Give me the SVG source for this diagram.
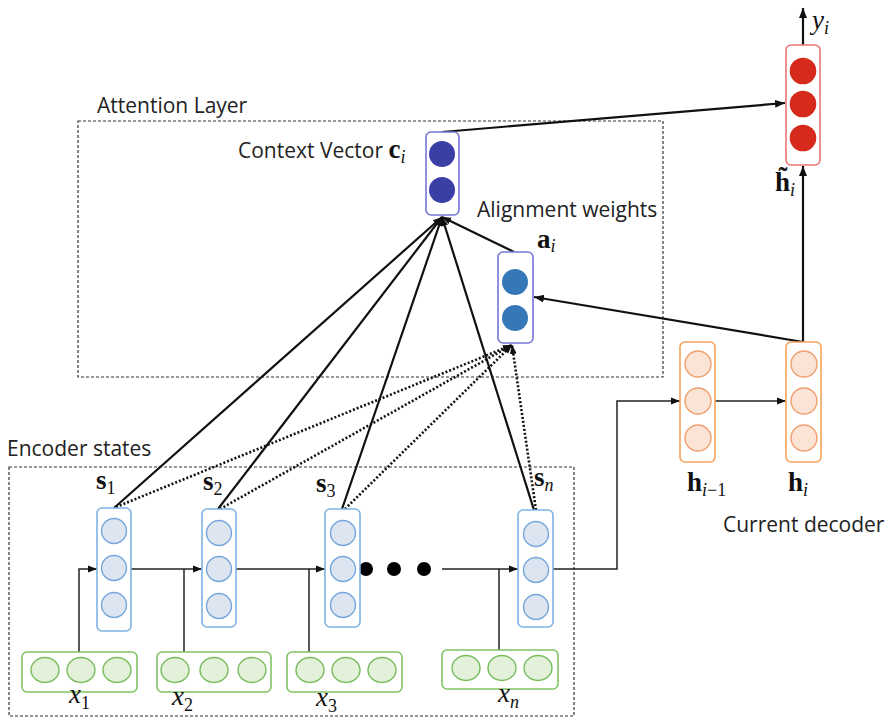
<svg xmlns="http://www.w3.org/2000/svg" width="889" height="727" viewBox="0 0 889 727">
<style>
.txt{font-family:"Open Sans","Liberation Sans",sans-serif;font-size:21px;fill:#222}
.m{font-family:"Liberation Serif","DejaVu Serif",serif;font-size:27px;fill:#111}
.b{font-weight:bold}
.it{font-style:italic}
.sub{font-size:18px;font-style:italic;font-weight:normal}
.subu{font-size:18px;font-style:normal;font-weight:normal}
.dash{fill:none;stroke:#333;stroke-width:1.2;stroke-dasharray:3 2}
.enc rect{fill:#fff;stroke:#7fb2e5;stroke-width:1.6}
.enc circle{fill:#dde6f0;stroke:#74a6dc;stroke-width:1.4}
.inp rect{fill:#fff;stroke:#80c463;stroke-width:1.6}
.inp ellipse{fill:#e3f0da;stroke:#77bb5a;stroke-width:1.4}
.dec rect{fill:#fff;stroke:#f5a35c;stroke-width:1.6}
.dec circle{fill:#fbe3d6;stroke:#f0a06e;stroke-width:1.4}
.ctx rect{fill:#fff;stroke:#7575d6;stroke-width:1.6}
.ctx circle{fill:#3a3fa6}
.aln rect{fill:#fff;stroke:#7575d6;stroke-width:1.6}
.aln circle{fill:#3478b8}
.out rect{fill:#fff;stroke:#ea7676;stroke-width:1.6}
.out circle{fill:#d62b1c}
.thin{fill:none;stroke:#222;stroke-width:1.5}
.thick{fill:none;stroke:#111;stroke-width:2.2}
.dot{fill:none;stroke:#111;stroke-width:2.6;stroke-dasharray:2 2}
</style>
<defs>
<marker id="ah" markerUnits="userSpaceOnUse" markerWidth="12" markerHeight="10" refX="10" refY="5" orient="auto">
<path d="M0,1 L10,5 L0,9 Z" fill="#111"/>
</marker>
<marker id="ahs" markerUnits="userSpaceOnUse" markerWidth="10" markerHeight="8" refX="9" refY="4" orient="auto">
<path d="M0,0.5 L9,4 L0,7.5 Z" fill="#111"/>
</marker>
</defs>

<g id="attention-layer">
<rect class="dash" x="78" y="121" width="585" height="256"/>
<text class="txt" x="97" y="113">Attention Layer</text>
</g>
<g id="encoder-states">
<rect class="dash" x="9" y="467" width="565" height="249"/>
<text class="txt" x="7" y="456">Encoder states</text>
</g>

<g id="connectors">
<line class="thick" x1="114" y1="508" x2="442" y2="217" marker-end="url(#ahs)"/>
<line class="thick" x1="218" y1="509" x2="442" y2="217" marker-end="url(#ahs)"/>
<line class="thick" x1="342" y1="509" x2="442" y2="217" marker-end="url(#ahs)"/>
<line class="thick" x1="534" y1="510" x2="442" y2="217" marker-end="url(#ahs)"/>
<line class="thick" x1="514" y1="252" x2="442" y2="217" marker-end="url(#ahs)"/>
<line class="dot" x1="116" y1="507" x2="512" y2="345" marker-end="url(#ahs)"/>
<line class="dot" x1="220" y1="509" x2="512" y2="345" marker-end="url(#ahs)"/>
<line class="dot" x1="345" y1="509" x2="512" y2="345" marker-end="url(#ahs)"/>
<line class="dot" x1="536" y1="510" x2="512" y2="345" marker-end="url(#ahs)"/>
<line class="thick" x1="442" y1="132" x2="785" y2="103" marker-end="url(#ah)"/>
<line class="thick" x1="803" y1="342" x2="534" y2="297" marker-end="url(#ah)"/>
<line class="thick" x1="803" y1="342" x2="803" y2="166" marker-end="url(#ah)"/>
<line class="thick" x1="803" y1="45" x2="803" y2="8" marker-end="url(#ah)"/>
<path class="thin" d="M79,652 V569 H97" marker-end="url(#ahs)"/>
<path class="thin" d="M131,569 H202" marker-end="url(#ahs)"/>
<path class="thin" d="M184,652 V569"/>
<path class="thin" d="M236,569 H325" marker-end="url(#ahs)"/>
<path class="thin" d="M309,652 V569"/>
<path class="thin" d="M442,569 H518" marker-end="url(#ahs)"/>
<path class="thin" d="M499,650 V569"/>
<path class="thin" d="M553,569 H617 V401 H680" marker-end="url(#ahs)"/>
<path class="thin" d="M715,401 H786" marker-end="url(#ahs)"/>
</g>

<g id="dots">
<circle cx="366" cy="569" r="7" fill="#000"/>
<circle cx="394" cy="569" r="7" fill="#000"/>
<circle cx="424" cy="569" r="7" fill="#000"/>
</g>

<g id="s1" class="enc">
<rect x="97" y="508" width="34" height="123" rx="5"/>
<circle cx="114" cy="531" r="12.5"/><circle cx="114" cy="568" r="12.5"/><circle cx="114" cy="605" r="12.5"/>
<text class="m b" x="96" y="489">s<tspan class="subu" dy="5">1</tspan></text>
</g>
<g id="s2" class="enc">
<rect x="202" y="509" width="34" height="118" rx="5"/>
<circle cx="219" cy="533" r="12.5"/><circle cx="219" cy="569" r="12.5"/><circle cx="219" cy="606" r="12.5"/>
<text class="m b" x="203" y="490">s<tspan class="subu" dy="5">2</tspan></text>
</g>
<g id="s3" class="enc">
<rect x="325" y="509" width="35" height="118" rx="5"/>
<circle cx="343" cy="533" r="12.5"/><circle cx="343" cy="569" r="12.5"/><circle cx="343" cy="605" r="12.5"/>
<text class="m b" x="316" y="492">s<tspan class="subu" dy="5">3</tspan></text>
</g>
<g id="sn" class="enc">
<rect x="518" y="510" width="35" height="117" rx="5"/>
<circle cx="536" cy="534" r="12.5"/><circle cx="536" cy="570" r="12.5"/><circle cx="536" cy="607" r="12.5"/>
<text class="m b" x="534" y="486">s<tspan class="sub" dy="5">n</tspan></text>
</g>

<g id="x1" class="inp">
<rect x="22" y="652" width="115" height="40" rx="5"/>
<ellipse cx="45" cy="670" rx="14" ry="12.5"/><ellipse cx="81" cy="670" rx="14" ry="12.5"/><ellipse cx="117" cy="670" rx="14" ry="12.5"/>
<text class="m it" x="69" y="703">x<tspan class="subu" dy="6">1</tspan></text>
</g>
<g id="x2" class="inp">
<rect x="157" y="652" width="114" height="40" rx="5"/>
<ellipse cx="175" cy="670" rx="14" ry="12.5"/><ellipse cx="214" cy="670" rx="14" ry="12.5"/><ellipse cx="252" cy="670" rx="14" ry="12.5"/>
<text class="m it" x="172" y="705">x<tspan class="subu" dy="6">2</tspan></text>
</g>
<g id="x3" class="inp">
<rect x="287" y="652" width="115" height="40" rx="5"/>
<ellipse cx="310" cy="670" rx="14" ry="12.5"/><ellipse cx="346" cy="670" rx="14" ry="12.5"/><ellipse cx="382" cy="670" rx="14" ry="12.5"/>
<text class="m it" x="316" y="706">x<tspan class="subu" dy="6">3</tspan></text>
</g>
<g id="xn" class="inp">
<rect x="442" y="650" width="116" height="39" rx="5"/>
<ellipse cx="466" cy="668" rx="14" ry="12.5"/><ellipse cx="502" cy="668" rx="14" ry="12.5"/><ellipse cx="538" cy="668" rx="14" ry="12.5"/>
<text class="m it" x="498" y="702">x<tspan class="sub" dy="6">n</tspan></text>
</g>

<g id="context-vector" class="ctx">
<rect x="426" y="132" width="33" height="83" rx="5"/>
<circle cx="442" cy="154" r="13"/><circle cx="442" cy="190" r="13"/>
<text class="txt" x="238" y="158">Context Vector <tspan class="m b" font-size="27px">c</tspan><tspan class="m sub" dy="5">i</tspan></text>
</g>

<g id="alignment-weights" class="aln">
<rect x="498" y="252" width="35" height="91" rx="5"/>
<circle cx="515" cy="282" r="13"/><circle cx="515" cy="318" r="13"/>
<text class="txt" x="477" y="217">Alignment weights</text>
<text class="m b" x="537" y="248">a<tspan class="sub" dy="4">i</tspan></text>
</g>

<g id="h-tilde" class="out">
<rect x="786" y="45" width="34" height="120" rx="5"/>
<circle cx="803" cy="71" r="13.3"/><circle cx="803" cy="104" r="13.3"/><circle cx="803" cy="138" r="13.3"/>
<text class="m b" x="775" y="191">h&#771;<tspan class="sub" dy="5">i</tspan></text>
</g>
<text id="y-label" class="m it" x="812" y="29">y<tspan class="sub" dy="5">i</tspan></text>

<g id="h-prev" class="dec">
<rect x="680" y="342" width="35" height="120" rx="5"/>
<circle cx="698" cy="364" r="13"/><circle cx="698" cy="401" r="13"/><circle cx="698" cy="438" r="13"/>
<text class="m b" x="687" y="491">h<tspan class="sub" dy="5">i</tspan><tspan class="subu">−1</tspan></text>
</g>
<g id="h-cur" class="dec">
<rect x="786" y="342" width="35" height="120" rx="5"/>
<circle cx="804" cy="364" r="13"/><circle cx="804" cy="401" r="13"/><circle cx="804" cy="438" r="13"/>
<text class="m b" x="788" y="491">h<tspan class="sub" dy="5">i</tspan></text>
<text class="txt" x="723" y="532">Current decoder</text>
</g>
</svg>
